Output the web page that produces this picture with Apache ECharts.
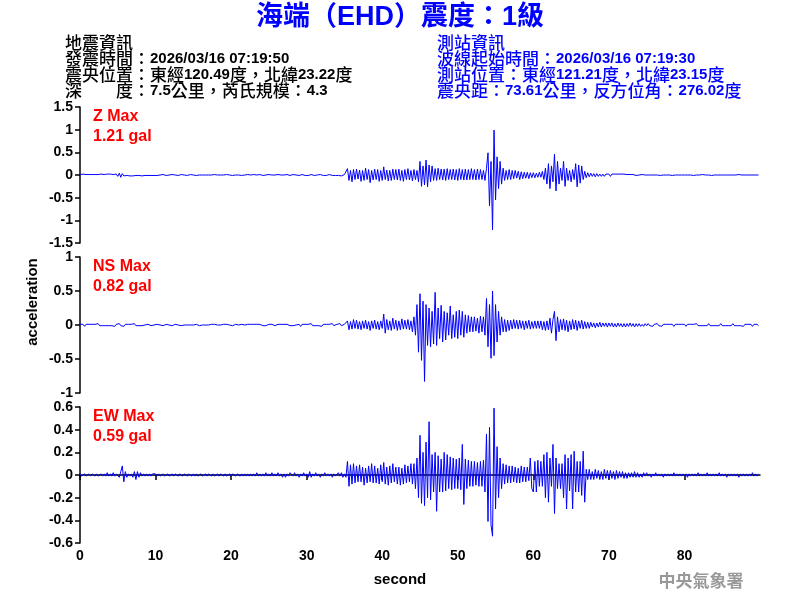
<!DOCTYPE html>
<html><head><meta charset="utf-8">
<script src="https://cdn.jsdelivr.net/npm/echarts@6/dist/echarts.min.js"></script>
<style>html,body{margin:0;padding:0;background:#fff}#c{width:800px;height:600px}</style>
</head><body><div id="c"></div>
<script>
const sampleStep = 0.2; // seconds between samples
const xTicks = [0,10,20,30,40,50,60,70,80];
const zTicks = [-1.5,-1,-0.5,0,0.5,1,1.5];
const nsTicks = [-1,-0.5,0,0.5,1];
const ewTicks = [-0.6,-0.4,-0.2,0,0.2,0.4,0.6];
const panelLabels = [["Z Max","1.21 gal"],["NS Max","0.82 gal"],["EW Max","0.59 gal"]];

const zAcc = [
0.01,-0.01,0.02,-0.01,0.01, -0.01,0.01,-0.02,0.01,0.00, 0.01,-0.02,0.01,-0.01,0.02, -0.01,0.01,-0.01,0.02,-0.01,
0.02,-0.02,0.01,-0.02,0.02, -0.03,0.04,-0.05,0.03,-0.02, 0.02,-0.01,0.02,-0.02,0.01, -0.02,0.02,-0.01,0.02,-0.01,
0.01,-0.02,0.01,-0.01,0.01, -0.01,0.01,-0.01,0.01,-0.01, 0.01,-0.01,0.01,0.00,-0.01, 0.01,0.00,-0.01,0.01,0.00,
0.00,0.01,-0.01,0.00,0.01, -0.01,0.00,0.01,-0.01,0.00, 0.01,-0.01,0.00,0.01,-0.01, 0.00,0.01,-0.01,0.00,0.00,
0.01,0.00,-0.01,0.00,0.01, 0.00,-0.01,0.00,0.00,0.01, -0.01,0.00,0.01,0.00,-0.01, 0.00,0.00,0.01,-0.01,0.00,
0.01,-0.01,0.00,0.00,0.01, 0.00,0.00,-0.01,0.01,0.00, -0.01,0.01,0.00,0.00,-0.01, 0.01,0.00,0.00,-0.01,0.01,
0.00,-0.01,0.01,0.00,0.00, 0.01,-0.01,0.00,0.01,0.00, -0.01,0.01,-0.01,0.00,0.01, 0.00,-0.01,0.01,0.00,-0.01,
0.00,0.01,-0.01,0.00,0.01, -0.01,0.00,0.01,0.00,-0.01, 0.01,-0.01,0.00,0.01,0.00, -0.01,0.01,0.00,-0.01,0.01,
0.00,-0.01,0.01,-0.01,0.00, 0.01,0.00,-0.01,0.01,-0.01,
0.01,-0.01,0.01,-0.02,0.01, 0.01,-0.02,0.14,-0.12,0.10, -0.15,0.12,-0.10,0.13,-0.09, 0.11,-0.14,0.10,-0.12,0.15,
-0.10,0.12,-0.17,0.10,-0.11, 0.13,-0.10,0.12,-0.14,0.10, -0.12,0.18,-0.10,0.11,-0.13, 0.10,-0.12,0.13,-0.10,0.12,
-0.11,0.13,-0.12,0.10,-0.14, 0.12,-0.10,0.14,-0.11,0.10, -0.13,0.12,-0.10,0.10,-0.15, 0.30,-0.25,0.20,-0.22,0.33,
-0.26,0.22,-0.15,0.20,-0.12, 0.14,-0.12,0.15,-0.10,0.13, -0.11,0.13,-0.12,0.14,-0.10, 0.12,-0.10,0.13,-0.11,0.12,
-0.12,0.14,-0.10,0.12,-0.11, 0.13,-0.11,0.12,-0.10,0.14, -0.10,0.12,-0.11,0.13,-0.10, 0.12,-0.10,0.10,-0.12,0.15,
0.49,-0.68,0.30,-1.21,0.99, -0.55,0.40,-0.30,0.30,-0.20, 0.15,-0.12,0.10,-0.10,0.12, -0.10,0.10,-0.08,0.10,-0.07,
0.08,-0.10,0.07,-0.08,0.06, -0.07,0.06,-0.08,0.05,-0.06, 0.05,-0.06,0.04,-0.05,0.06, -0.05,0.08,-0.10,0.15,-0.20,
0.25,-0.30,0.20,-0.15,0.46, -0.35,0.30,-0.20,0.15,-0.12, 0.30,-0.25,0.15,-0.12,0.10, -0.15,0.12,-0.10,0.25,-0.26,
0.22,-0.18,0.20,-0.10,0.08, -0.06,0.05,-0.04,0.04,-0.03, 0.03,-0.04,0.03,-0.03,0.02, -0.03,0.02,-0.03,0.02,-0.02,
0.02,-0.03,0.02,-0.02,0.02, -0.02,0.02,-0.01,0.02,-0.02, 0.02,-0.01,0.01,-0.02,0.01, -0.01,0.01,0.00,-0.01,0.01,
0.00,-0.01,0.01,0.00,0.00, 0.01,0.00,-0.01,0.00,0.00, 0.00,0.01,0.00,0.00,-0.01, 0.00,0.00,0.01,0.00,0.00,
0.00,0.00,-0.01,0.00,0.00, 0.01,0.00,0.00,0.00,-0.01, 0.00,0.00,0.00,0.01,0.00, 0.00,-0.01,0.00,0.00,0.00,
0.00,0.00,0.01,0.00,0.00, 0.00,0.00,0.00,-0.01,0.00, 0.00,0.01,0.00,0.00,0.00, 0.00,0.00,-0.01,0.00,0.01,
0.00,0.00,0.00,0.00,0.00, 0.00,0.01,-0.01,0.00,0.00, 0.00,0.00,0.00,0.00,0.00, 0.00,0.00,0.01,0.00,0.00
];

const nsAcc = [
0.01,-0.01,0.01,-0.02,0.01, -0.01,0.01,-0.01,0.01,0.00, 0.01,-0.01,0.02,-0.01,0.01, -0.01,0.01,-0.01,0.01,-0.01,
0.01,-0.01,0.01,-0.02,0.01, -0.01,0.02,-0.01,0.01,-0.02, 0.01,-0.01,0.01,-0.01,0.01, -0.01,0.02,-0.01,0.01,-0.01,
0.01,-0.01,0.01,0.00,-0.01, 0.01,0.00,-0.01,0.01,0.00, 0.00,0.01,-0.01,0.00,0.01, -0.01,0.00,0.01,-0.01,0.00,
0.01,-0.01,0.00,0.01,-0.01, 0.00,0.01,-0.01,0.00,0.00, 0.01,0.00,-0.01,0.00,0.01, 0.00,-0.01,0.01,0.00,-0.01,
0.01,0.00,-0.01,0.00,0.01, 0.00,-0.01,0.01,0.00,0.01, -0.01,0.00,0.01,0.00,-0.01, 0.01,0.00,0.01,-0.01,0.00,
0.01,-0.01,0.00,0.01,0.01, 0.00,-0.01,0.01,-0.01,0.00, -0.01,0.01,0.00,0.01,-0.01, 0.01,-0.01,0.01,-0.01,0.01,
0.00,-0.01,0.01,-0.01,0.01, 0.01,-0.01,0.01,0.01,-0.01, -0.01,0.01,-0.01,0.01,0.01, 0.01,-0.01,0.01,-0.01,-0.01,
0.01,-0.01,0.01,0.00,-0.01, 0.01,-0.02,0.01,-0.01,0.01, -0.01,0.01,-0.01,0.02,-0.01, 0.01,-0.01,0.01,-0.01,0.01,
-0.02,0.01,-0.01,0.01,-0.01, 0.01,-0.01,0.02,-0.01,0.01,
0.01,-0.01,0.02,-0.01,0.01, 0.01,-0.01,0.06,-0.07,0.05, -0.06,0.08,-0.05,0.07,-0.06, 0.05,-0.07,0.06,-0.05,0.07,
-0.06,0.05,-0.08,0.06,-0.05, 0.07,-0.06,0.05,-0.07,0.06, -0.05,0.16,-0.12,0.08,-0.07, 0.06,-0.08,0.10,-0.06,0.07,
-0.08,0.06,-0.07,0.09,-0.06, 0.07,-0.06,0.08,-0.07,0.06, -0.10,0.12,-0.15,0.30,-0.40, 0.46,-0.52,0.35,-0.83,0.30,
-0.30,0.25,-0.32,0.20,-0.28, 0.48,-0.30,0.25,-0.20,0.29, -0.25,0.20,-0.22,0.18,-0.15, 0.28,-0.20,0.15,-0.18,0.20,
-0.20,0.22,-0.15,0.20,-0.18, 0.15,-0.12,0.14,-0.10,0.12, -0.10,0.12,-0.09,0.10,-0.12, 0.13,-0.10,0.12,-0.15,0.39,
-0.32,0.30,-0.49,0.50,-0.45, 0.30,-0.25,0.20,-0.15,0.12, -0.10,0.08,-0.10,0.07,-0.08, 0.07,-0.06,0.08,-0.05,0.07,
-0.06,0.07,-0.05,0.06,-0.07, 0.06,-0.05,0.07,-0.06,0.05, -0.05,0.06,-0.05,0.06,-0.05, 0.06,-0.07,0.05,-0.08,0.06,
-0.07,0.10,-0.12,0.08,0.20, -0.23,0.12,-0.10,0.08,-0.07, 0.09,-0.08,0.07,-0.10,0.06, -0.07,0.08,-0.06,0.07,-0.08,
0.06,-0.05,0.07,-0.06,0.05, -0.05,0.04,-0.05,0.04,-0.03, 0.03,-0.04,0.03,-0.03,0.04, -0.03,0.03,-0.02,0.03,-0.03,
0.03,-0.02,0.03,-0.03,0.02, -0.03,0.03,-0.02,0.02,-0.03, 0.02,-0.03,0.02,-0.02,0.03, -0.02,0.02,-0.03,0.02,-0.02,
0.02,-0.02,0.01,-0.02,0.02, -0.01,0.02,-0.01,0.01,-0.02, 0.01,-0.01,0.02,-0.01,0.01, -0.02,0.01,-0.01,0.01,-0.01,
0.01,-0.01,0.01,-0.02,0.01, -0.01,0.01,-0.01,0.01,-0.01, 0.01,-0.02,0.01,-0.01,0.01, -0.01,0.01,-0.01,0.02,-0.01,
0.01,-0.01,0.01,-0.01,0.01, -0.01,0.02,-0.01,0.01,-0.01, 0.01,-0.01,0.01,-0.01,0.02, -0.01,0.01,-0.01,0.01,-0.01,
0.01,-0.01,0.02,-0.01,0.01, -0.01,0.01,-0.01,0.01,-0.02, 0.01,-0.01,0.01,-0.01,0.01, -0.02,0.01,-0.01,0.01,-0.01
];

const ewAcc = [
0.01,-0.01,0.00,0.01,-0.01, 0.00,0.01,-0.01,0.01,0.00, -0.01,0.01,-0.01,0.00,0.01, -0.01,0.01,-0.01,0.02,-0.01,
0.01,-0.01,0.02,-0.01,0.01, 0.01,-0.02,0.03,0.08,-0.06, 0.03,-0.02,0.01,-0.01,0.01, -0.02,0.03,-0.04,0.03,-0.02,
0.02,-0.01,0.01,-0.01,0.01, -0.01,0.01,-0.01,0.01,0.00, 0.01,-0.01,0.01,-0.01,0.00, 0.01,-0.01,0.00,0.01,-0.01,
0.00,0.01,-0.01,0.01,0.00, -0.01,0.01,0.00,-0.01,0.01, 0.01,-0.01,0.01,0.00,-0.01, 0.01,-0.01,0.01,-0.01,0.00,
0.01,-0.01,0.00,0.01,-0.01, 0.01,0.00,-0.01,0.01,-0.01, 0.00,0.01,-0.01,0.01,0.00, -0.01,0.01,-0.01,0.00,0.01,
-0.01,0.01,0.00,-0.01,0.01, 0.01,-0.01,0.01,-0.01,0.01, -0.01,0.01,-0.01,0.01,-0.01, 0.01,-0.01,0.02,-0.01,0.01,
-0.01,0.01,-0.01,0.02,-0.01, 0.01,-0.01,0.02,-0.01,0.01, -0.01,0.02,-0.01,0.01,-0.02, 0.01,-0.02,0.01,-0.01,0.02,
0.01,-0.01,0.02,-0.01,0.01, -0.02,0.01,-0.01,0.02,-0.01, 0.01,-0.02,0.03,-0.02,0.01, -0.01,0.02,-0.01,0.01,-0.02,
0.01,-0.01,0.02,-0.01,0.01, -0.01,0.01,-0.02,0.01,-0.01,
-0.01,0.02,-0.01,0.02,-0.02, 0.01,-0.02,0.12,-0.10,0.09, -0.08,0.10,-0.07,0.08,-0.06, 0.09,-0.06,0.07,-0.09,0.06,
-0.07,0.08,-0.06,0.10,-0.07, 0.08,-0.07,0.06,-0.08,0.09, -0.06,0.11,-0.08,0.07,-0.09, 0.08,-0.07,0.10,-0.06,0.07,
-0.08,0.07,-0.09,0.06,-0.08, 0.09,-0.07,0.08,-0.06,0.10, -0.08,0.10,-0.12,0.15,-0.20, 0.35,-0.25,0.20,-0.27,0.29,
-0.20,0.47,-0.22,0.18,-0.15, 0.20,-0.32,0.17,-0.15,0.14, -0.15,0.20,-0.14,0.18,-0.12, 0.16,-0.13,0.15,-0.12,0.14,
-0.12,0.15,-0.13,0.27,-0.26, 0.14,-0.12,0.13,-0.10,0.12, -0.10,0.12,-0.09,0.11,-0.10, 0.12,-0.10,0.13,-0.15,0.36,
-0.41,0.42,-0.44,-0.54,0.59, -0.30,0.25,-0.20,0.15,-0.12, 0.10,-0.08,0.09,-0.07,0.08, -0.07,0.08,-0.06,0.07,-0.07,
0.06,-0.07,0.08,-0.06,0.07, -0.06,0.07,-0.05,0.15,-0.12, -0.15,0.12,-0.15,0.13,-0.10, 0.12,-0.10,0.18,-0.20,0.20,
-0.24,0.15,-0.10,0.27,-0.34, 0.15,-0.12,0.10,-0.12,0.10, -0.20,0.18,-0.30,0.15,-0.14, 0.18,-0.30,0.21,-0.15,0.12,
-0.15,0.12,-0.18,0.21,-0.24, 0.05,-0.04,0.05,-0.04,0.03, -0.04,0.05,-0.03,0.04,-0.04, 0.03,-0.04,0.05,-0.03,0.04,
-0.03,0.04,-0.03,0.03,-0.04, 0.04,-0.03,0.03,-0.02,0.03, -0.03,0.02,-0.03,0.02,-0.02, 0.02,-0.02,0.03,-0.02,0.02,
-0.02,0.01,-0.02,0.02,-0.01, 0.02,-0.01,0.01,-0.02,0.01, -0.01,0.02,-0.01,0.01,-0.01, 0.01,-0.02,0.01,-0.01,0.01,
-0.01,0.01,-0.01,0.02,-0.01, 0.01,-0.01,0.01,-0.01,0.01, -0.01,0.01,-0.02,0.01,-0.01, 0.01,-0.01,0.01,-0.01,0.02,
-0.01,0.01,-0.01,0.01,-0.01, 0.02,-0.01,0.01,-0.01,0.01, -0.01,0.01,-0.01,0.02,-0.01, 0.01,-0.01,0.01,-0.02,0.01,
-0.01,0.01,-0.01,0.01,-0.01, 0.01,-0.02,0.01,-0.01,0.01, -0.01,0.01,-0.01,0.01,-0.01, 0.02,-0.01,0.01,-0.01,0.01
];

const titleText = "海端（EHD）震度：1級";
const quakeInfo = ["地震資訊","發震時間：2026/03/16 07:19:50","震央位置：東經120.49度，北緯23.22度","深　　度：7.5公里，芮氏規模：4.3"];
const stationInfo = ["測站資訊","波線起始時間：2026/03/16 07:19:30","測站位置：東經121.21度，北緯23.15度","震央距：73.61公里，反方位角：276.02度"];
const xName = "second", yName = "acceleration", credit = "中央氣象署";

const FONT = '"Liberation Sans", Arial, "Noto Sans CJK TC", sans-serif';
const CJKFONT = '"Noto Sans CJK TC", sans-serif';
const toPairs = arr => arr.map((v, i) => [+(i * sampleStep).toFixed(2), v]);
const toRich = s => s.replace(/([\u3000-\u9fff\uff00-\uffef]+)/g, '{c|$1}');

const tops = [107, 257, 407];
const ranges = [[zTicks, 0.5], [nsTicks, 0.5], [ewTicks, 0.2]];
const grids = tops.map(t => ({left: 80, width: 680, top: t, height: 136, containLabel: false}));
const xAxes = tops.map((t, i) => ({
  gridIndex: i, type: 'value', min: 0, max: 90, interval: 10, show: i === 2,
  axisLine: {show: true, lineStyle: {color: '#000', width: 1.5}},
  axisTick: {show: true, length: 5, lineStyle: {color: '#000', width: 1.5}},
  axisLabel: {show: true, color: '#000', fontFamily: FONT, fontWeight: 'bold', fontSize: 14, margin: 6, showMaxLabel: false},
  splitLine: {show: false}
}));
const yAxes = ranges.map((r, i) => ({
  gridIndex: i, type: 'value', min: r[0][0], max: r[0][r[0].length - 1], interval: r[1],
  axisLine: {show: true, onZero: false, lineStyle: {color: '#000', width: 1.5}},
  axisTick: {show: true, length: 5, lineStyle: {color: '#000', width: 1.5}},
  axisLabel: {color: '#000', fontFamily: FONT, fontWeight: 'bold', fontSize: 14, margin: 7,
    formatter: v => String(+v.toFixed(2))},
  splitLine: {show: false}
}));
const seriesData = [zAcc, nsAcc, ewAcc];
const series = seriesData.map((d, i) => ({
  type: 'line', xAxisIndex: i, yAxisIndex: i, data: toPairs(d), showSymbol: false, symbol: 'none',
  sampling: 'none', lineStyle: {color: '#0000FF', width: 1}, silent: true, animation: false
}));

const graphic = [];
graphic.push({type: 'text', left: 'center', top: 4, style: {text: titleText, font: 'bold 27px ' + FONT, fill: '#0000FF'}});
const infoText = (s, x, y, color) => ({type: 'text', x, y, style: {
  text: toRich(s), font: 'bold 15px ' + FONT, fill: color, textVerticalAlign: 'middle',
  rich: {c: {font: '500 17px ' + CJKFONT, fill: color}}
}});
quakeInfo.forEach((s, i) => graphic.push(infoText(s, 65, 43 + i * 16, '#000')));
stationInfo.forEach((s, i) => graphic.push(infoText(s, 437, 43 + i * 16, '#0000FF')));
panelLabels.forEach((p, i) => {
  graphic.push({type: 'text', x: 93, y: tops[i] + 10, style: {text: p[0], font: 'bold 16px ' + FONT, fill: '#FF0000', textVerticalAlign: 'middle'}});
  graphic.push({type: 'text', x: 93, y: tops[i] + 30, style: {text: p[1], font: 'bold 16px ' + FONT, fill: '#FF0000', textVerticalAlign: 'middle'}});
});
graphic.push({type: 'text', x: 400, y: 580, style: {text: xName, font: 'bold 15px ' + FONT, fill: '#000', textAlign: 'center', textVerticalAlign: 'middle'}});
graphic.push({type: 'text', x: 33, y: 302, rotation: Math.PI / 2, style: {text: yName, font: 'bold 15px ' + FONT, fill: '#000', textAlign: 'center', textVerticalAlign: 'middle'}});
graphic.push({type: 'text', x: 701, y: 581, style: {text: credit, font: 'bold 17px ' + CJKFONT, fill: '#999999', textAlign: 'center', textVerticalAlign: 'middle'}});

const chart = echarts.init(document.getElementById('c'), null, {renderer: 'canvas'});
chart.setOption({animation: false, backgroundColor: '#fff', grid: grids, xAxis: xAxes, yAxis: yAxes, series, graphic});
</script></body></html>
